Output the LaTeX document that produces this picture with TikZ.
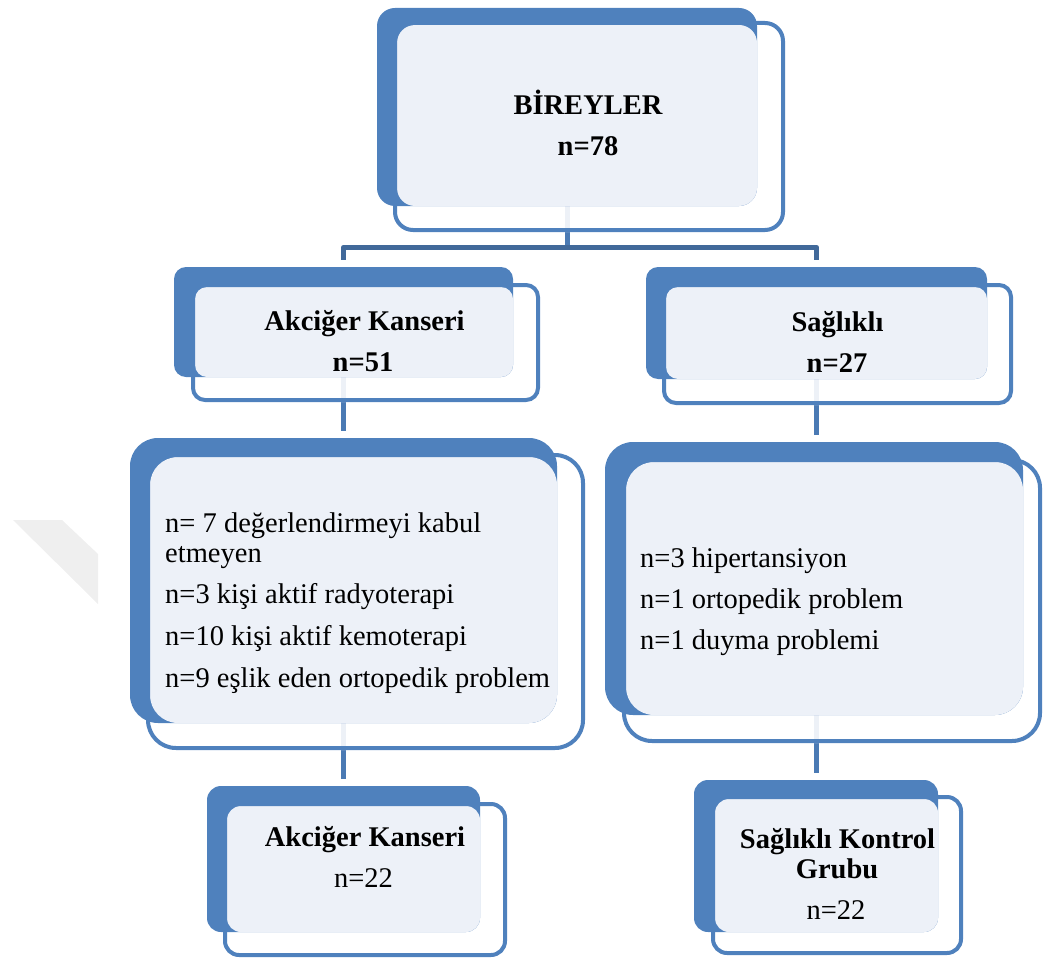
\documentclass[tikz,border=0pt]{standalone}
\usepackage{fontspec}
\setmainfont{Liberation Serif}
\usetikzlibrary{fit,calc}
\definecolor{boxblue}{HTML}{4F81BD}
\definecolor{panelc}{HTML}{EDF1F8}
\definecolor{hconnc}{HTML}{41699A}
\definecolor{vconnc}{HTML}{4A7AB4}
\definecolor{wmark}{HTML}{EFEFEF}
\tikzset{
  backbox/.style={fill=boxblue, draw=none, inner sep=0pt},
  frontbox/.style={draw=boxblue, line width=4pt, inner sep=0pt},
  frontfill/.style={fill=white, opacity=0.9},
  panel/.style={fill=panelc},
  conn/.style={draw=vconnc, line width=5pt},
  hconn/.style={draw=hconnc, line width=5pt, line join=round},
  btxt/.style={font=\fontsize{28.5}{34}\selectfont\bfseries, inner sep=0pt, anchor=base},
  rtxt/.style={font=\fontsize{28.5}{34}\selectfont, inner sep=0pt, anchor=base},
  ltxt/.style={font=\fontsize{28.5}{34}\selectfont, inner sep=0pt, anchor=base west},
}
\newcommand\tribox[6]{%
  \coordinate (#1-p) at ($#4+(4,4)$);
  \coordinate (#1-q) at ($#4+(2,2)$);
  \coordinate (#1-r) at ($#5-(2,2)$);
  \fill[frontfill, rounded corners=#6] #4 rectangle #5;
  \node[backbox, rounded corners=#6, fit={#2 #3}] (#1b) {};
  \fill[panel, rounded corners=#6] (#1-p) rectangle #3;
  \node[frontbox, rounded corners=#6, fit=(#1-q)(#1-r)] (#1f) {};
}
\begin{document}
\begin{tikzpicture}[x=1pt,y=-1pt]
\useasboundingbox (0,0) rectangle (1043,960);
% faint watermark
\fill[wmark] (13,520) -- (62,520) -- (98,554) -- (98,604) -- cycle;

% back boxes need to exist before connectors are referenced: draw connectors on a lower layer
\pgfdeclarelayer{bg}
\pgfsetlayers{bg,main}

\tribox{top}{(377,8)}{(757,206)}{(393,21)}{(785,232)}{18pt}
\tribox{lk}{(174,267)}{(513,377)}{(191,283)}{(540,402)}{12pt}
\tribox{sk}{(646,267)}{(987,379)}{(662,283)}{(1013,405)}{12pt}
\tribox{ld}{(130,438)}{(557,723)}{(146,453)}{(585,750)}{28pt}
\tribox{rd}{(605,442)}{(1023,715)}{(622,458)}{(1042,743)}{28pt}
\tribox{lr}{(207,786)}{(480,932)}{(223,802)}{(507,957)}{14pt}
\tribox{rr}{(694,780)}{(938,932)}{(711,795)}{(963,955)}{14pt}

\begin{pgfonlayer}{bg}
  \coordinate (hbar) at ($(topb.south)+(0,41)$);
  \draw[conn] (topb.south) -- (hbar);
  \draw[hconn] ($(lkb.north)+(0,-7)$) |- (hbar) -| ($(skb.north)+(0,-7)$);
  \draw[conn] (lkb.south) -- ($(ldb.north)+(0,-7)$);
  \draw[conn] (skb.south) -- ($(skb.south |- rdb.north)+(0,-7)$);
  \draw[conn] (ldb.south) -- ($(lrb.north)+(0,-7)$);
  \draw[conn] (rdb.south -| rrb.north) -- ($(rrb.north)+(0,-7)$);
\end{pgfonlayer}

% texts
\node[btxt] (t1) at (588,115) {BİREYLER};
\node[btxt] (t2) at (588,156) {n=78};
\node[btxt] (t3) at (364.5,330) {Akciğer Kanseri};
\node[btxt] (t4) at (363,371) {n=51};
\node[btxt] (t5) at (837.5,331) {Sağlıklı};
\node[btxt] (t6) at (837,372) {n=27};
\node[ltxt] (t7) at (165,532) {n= 7 değerlendirmeyi kabul};
\node[ltxt] (t8) at (165,562) {etmeyen};
\node[ltxt] (t9) at (165,603) {n=3 kişi aktif radyoterapi};
\node[ltxt] (t10) at (165,645) {n=10 kişi aktif kemoterapi};
\node[ltxt] (t11) at (165,687) {n=9 eşlik eden ortopedik problem};
\node[ltxt] (t12) at (640,567) {n=3 hipertansiyon};
\node[ltxt] (t13) at (640,608) {n=1 ortopedik problem};
\node[ltxt] (t14) at (640,649) {n=1 duyma problemi};
\node[btxt] (t15) at (365,846) {Akciğer Kanseri};
\node[rtxt] (t16) at (363.5,887) {n=22};
\node[btxt] (t17) at (837.5,848) {Sağlıklı Kontrol};
\node[btxt] (t18) at (837,878) {Grubu};
\node[rtxt] (t19) at (836,919) {n=22};
\end{tikzpicture}
\end{document}
